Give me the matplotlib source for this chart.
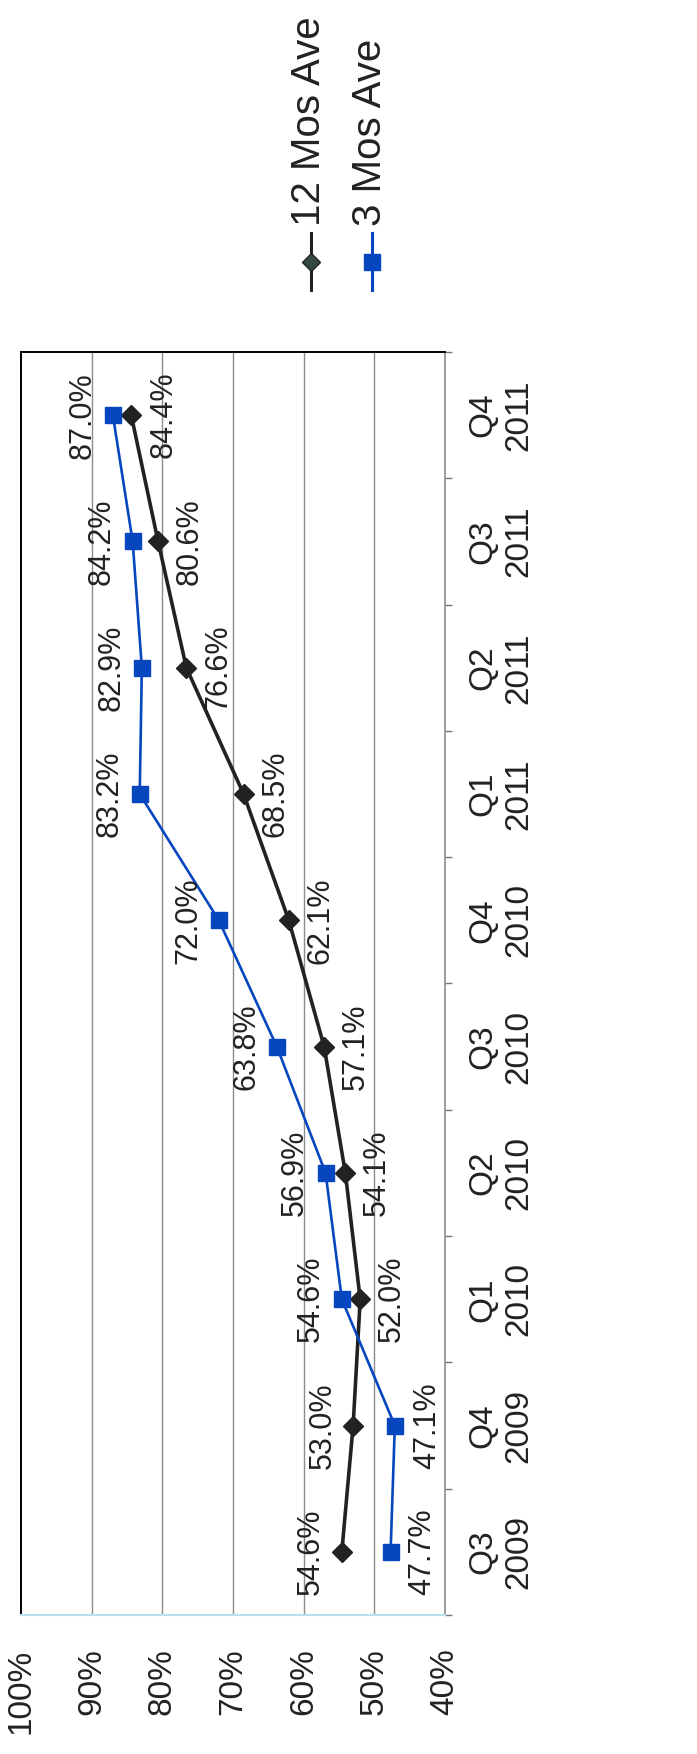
import matplotlib
matplotlib.use("Agg")
import matplotlib.pyplot as plt
from matplotlib.lines import Line2D
import numpy as np

plt.rcParams['font.family'] = ['Liberation Sans', 'DejaVu Sans']

quarters = ["Q3\n2009", "Q4\n2009", "Q1\n2010", "Q2\n2010", "Q3\n2010",
            "Q4\n2010", "Q1\n2011", "Q2\n2011", "Q3\n2011", "Q4\n2011"]
ave_12 = [54.6, 53.0, 52.0, 54.1, 57.1, 62.1, 68.5, 76.6, 80.6, 84.4]
ave_3 = [47.7, 47.1, 54.6, 56.9, 63.8, 72.0, 83.2, 82.9, 84.2, 87.0]
pct_ticks = [100, 90, 80, 70, 60, 50, 40]

black = "#222222"
blue = "#0646BE"

fig = plt.figure(figsize=(6.97, 17.54), dpi=100)
ax = fig.add_axes([21/697, 1 - 1615/1754, 424/697, 1263/1754])

pos = np.arange(len(quarters))

# chart is drawn turned on its side: value runs right-to-left, quarters bottom-to-top
for v in [50, 60, 70, 80, 90]:
    ax.axvline(v, color="#8c8c8c", lw=1.0, zorder=1)

ax.plot(ave_12, pos, color=black, lw=2.6, marker="D", ms=10,
        mfc=black, mec=black, zorder=3)
ax.plot(ave_3, pos, color=blue, lw=1.9, marker="s", ms=11,
        mfc=blue, mec=blue, zorder=3)

# data labels: the higher series gets its label on the "above" (left) side
for i in pos:
    hi_blue = ave_3[i] >= ave_12[i]
    off_b = -22 if hi_blue else 23
    off_k = 23 if hi_blue else -22
    ax.annotate(f"{ave_3[i]:.1f}%", (ave_3[i], i), xytext=(off_b, 0),
                textcoords="offset points", rotation=90, ha="center",
                va="center", fontsize=22, color=black, zorder=4)
    ax.annotate(f"{ave_12[i]:.1f}%", (ave_12[i], i), xytext=(off_k, 0),
                textcoords="offset points", rotation=90, ha="center",
                va="center", fontsize=22, color=black, zorder=4)

ax.set_xlim(100, 40)
ax.set_ylim(-0.5, len(quarters) - 0.5)

ax.set_xticks(pct_ticks)
ax.set_xticklabels([f"{t}%" for t in pct_ticks], rotation=90, fontsize=24,
                   color=black)
ax.tick_params(axis="x", length=0, pad=24)

ax.yaxis.tick_right()
ax.set_yticks(pos)
ax.set_yticklabels(quarters, rotation=90, fontsize=24, color=black,
                   va="center", ha="left", multialignment="center")
ax.set_yticks(np.arange(-0.5, len(quarters), 1.0), minor=True)
ax.tick_params(axis="y", which="major", length=0, pad=16)
ax.tick_params(axis="y", which="minor", length=5, width=1, color="#777777",
               direction="out")

ax.spines["left"].set_color("black")
ax.spines["left"].set_linewidth(1.4)
ax.spines["top"].set_color("black")
ax.spines["top"].set_linewidth(1.4)
ax.spines["right"].set_color("#8c8c8c")
ax.spines["right"].set_linewidth(1.2)
ax.spines["bottom"].set_color("#b8e0ec")
ax.spines["bottom"].set_linewidth(1.5)

# legend, turned like the chart
leg = [("12 Mos Ave", black, "D", 9, "#34493f", 311, 309),
       ("3 Mos Ave", blue, "s", 11, blue, 372, 370)]
for label, col, mk, ms, fc, xh, xt in leg:
    fig.add_artist(Line2D([xh/697, xh/697], [1 - 233/1754, 1 - 290/1754],
                          transform=fig.transFigure, color=col, lw=2.2))
    fig.add_artist(Line2D([xh/697], [1 - 262/1754], transform=fig.transFigure,
                          marker=mk, ms=ms, mfc=fc, mec=col, ls="none"))
    fig.text(xt/697, 1 - 226/1754, label, rotation=90, ha="center",
             va="bottom", fontsize=29, color=black)

fig.savefig("out.png", dpi=100, facecolor="white")
